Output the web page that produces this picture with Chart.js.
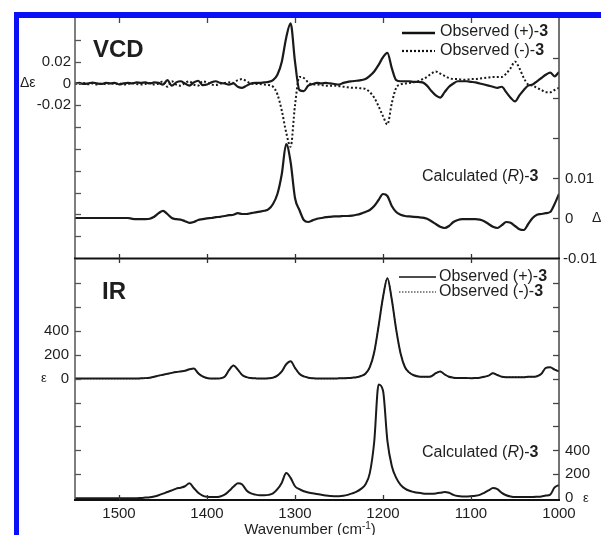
<!DOCTYPE html>
<html><head><meta charset="utf-8">
<script src="https://cdn.jsdelivr.net/npm/chart.js@4.4.1/dist/chart.umd.min.js"></script>
<style>
html,body{margin:0;padding:0;background:#fff;}
#wrap{position:relative;width:601px;height:535px;overflow:hidden;background:#fff;}
canvas{position:absolute;left:0;top:0;}
.blue{position:absolute;background:#0a10f5;z-index:5;}
</style></head>
<body>
<div id="wrap">
<canvas id="cTop" width="601" height="535"></canvas>
<canvas id="cBot" width="601" height="535"></canvas>
<div class="blue" style="left:14px;top:12px;width:587px;height:6px"></div>
<div class="blue" style="left:14px;top:12px;width:5px;height:523px"></div>
</div>
<script>
// ---------- DATA ----------
const wavenumber = [
 1550,1545,1540,1535,1530,1525,1520,1515,1510,1505,
 1500,1495,1490,1485,1480,1475,1470,1465,1460,1455,
 1450,1445,1440,1435,1430,1425,1420,1415,1410,1405,
 1400,1395,1390,1385,1380,1375,1370,1365,1360,1355,
 1350,1345,1340,1335,1330,1325,1320,1315,1310,1305,
 1300,1295,1290,1285,1280,1275,1270,1265,1260,1255,
 1250,1245,1240,1235,1230,1225,1220,1215,1210,1205,
 1200,1195,1190,1185,1180,1175,1170,1165,1160,1155,
 1150,1145,1140,1135,1130,1125,1120,1115,1110,1105,
 1100,1095,1090,1085,1080,1075,1070,1065,1060,1055,
 1050,1045,1040,1035,1030,1025,1020,1015,1010,1005,
 1000];

// Observed VCD (+)-3, Δε (left axis)
const vcdObsPlus = [
 0,0.0005,-0.0005,0,0.0008,0,-0.0005,0.0005,0,0.0005,
 -0.0008,0,0.0005,0,0.001,0.0005,0.001,0,0.001,0.0005,
 -0.001,0.003,-0.002,0.001,0.002,0,-0.002,0.001,0.0025,-0.0015,
 -0.001,0.001,0.002,0.0005,0,-0.001,0,-0.003,-0.004,-0.002,
 0,0.0005,0.0005,0.001,0.0015,0.003,0.008,0.02,0.042,0.055,
 0.02,-0.006,-0.007,-0.002,-0.0005,0.0005,0,0.0005,0,-0.0005,
 -0.001,0.0005,0.0015,0.002,0.0025,0.003,0.004,0.007,0.011,0.017,
 0.024,0.028,0.014,0.003,0.002,0.002,0.002,0.0015,0.0015,0.001,
 -0.002,-0.007,-0.011,-0.013,-0.008,-0.003,0,0.002,0.002,0.002,
 0.0015,0.001,0,-0.001,-0.002,-0.003,-0.004,-0.003,-0.008,-0.013,
 -0.0165,-0.011,-0.006,-0.002,-0.001,0.002,0.005,0.008,0.01,0.0065,
 0.0105];

// Observed VCD (-)-3, Δε (left axis)
const vcdObsMinus = [
 0,-0.0005,0.0005,-0.0008,0,-0.001,0,-0.0008,0.0005,-0.0005,
 0,-0.001,-0.0005,0.0005,-0.0005,-0.001,-0.0005,0.0005,-0.001,0,
 0.002,-0.003,0.002,-0.001,-0.002,0.0005,0.002,-0.001,-0.002,0.002,
 0.001,-0.001,-0.0015,0,0.0005,0.001,0.0005,0.003,0.004,0.002,
 0,-0.0005,-0.0005,-0.001,-0.0015,-0.003,-0.01,-0.025,-0.045,-0.058,
 -0.02,0.006,0.005,0.001,-0.001,-0.001,-0.0015,-0.002,-0.002,-0.002,
 -0.0025,-0.003,-0.0035,-0.004,-0.004,-0.0045,-0.005,-0.008,-0.013,-0.021,
 -0.03,-0.0375,-0.018,-0.004,-0.001,0,0.0005,0.001,0.002,0.004,
 0.006,0.009,0.011,0.009,0.007,0.005,0.004,0.004,0.0035,0.0035,
 0.004,0.004,0.0045,0.005,0.0055,0.006,0.006,0.006,0.009,0.014,
 0.02,0.014,0.005,-0.001,-0.002,-0.004,-0.006,-0.008,-0.008,-0.006,
 -0.004];

// Calculated VCD (R)-3, Δε (right axis)
const vcdCalc = [
 0,0,0,0,0,0,0,0,0,0,
 0,0,0,-0.0002,-0.0003,-0.0003,-0.0003,-0.0002,0.0003,0.0012,
 0.0018,0.001,0,-0.0003,-0.0004,-0.0008,-0.0012,-0.001,-0.0005,-0.0003,
 -0.0001,0,0.0002,0.0003,0.0005,0.0007,0.0008,0.0012,0.001,0.001,
 0.0012,0.0014,0.0016,0.0018,0.0022,0.0035,0.006,0.011,0.0185,0.014,
 0.005,0.002,-0.0005,-0.001,-0.0006,-0.0002,0,0.0002,0.0003,0.0004,
 0.0004,0.0005,0.0005,0.0006,0.0008,0.0011,0.0015,0.002,0.003,0.0045,
 0.006,0.0055,0.003,0.0015,0.0008,0.0005,0.0004,0.0003,0.0002,0.0001,
 -0.0002,-0.0008,-0.0015,-0.0022,-0.0025,-0.002,-0.001,-0.0005,-0.0003,-0.0003,
 -0.0003,-0.0003,-0.0004,-0.0008,-0.0015,-0.0022,-0.0025,-0.0018,-0.001,-0.0012,
 -0.002,-0.0028,-0.003,-0.0015,0,0.0008,0.001,0.0012,0.0015,0.0035,
 0.006];

// Observed IR (+)-3, ε (left axis)
const irObsPlus = [
 0,0,0,0,0,0,0,0,0,0,
 0,0,0,0,0,2,4,8,15,25,
 32,40,48,55,60,65,78,85,45,18,
 5,0,0,2,15,70,110,75,30,12,
 5,2,0,0,2,8,25,60,120,145,
 90,40,18,8,3,0,0,0,0,0,
 2,3,5,8,12,22,40,95,220,440,
 680,840,660,410,210,95,50,28,18,15,
 15,20,45,60,35,15,8,5,5,5,
 3,5,8,15,25,45,30,15,12,12,
 12,12,12,15,15,20,40,90,95,75,
 60];

// Observed IR (-)-3, ε (left axis) - coincides with (+)-3 in the figure
const irObsMinus = [
 0,0,0,0,0,0,0,0,0,0,
 0,0,0,0,0,2,4,8,15,25,
 32,40,48,55,60,65,78,85,45,18,
 5,0,0,2,15,70,110,75,30,12,
 5,2,0,0,2,8,25,60,120,145,
 90,40,18,8,3,0,0,0,0,0,
 2,3,5,8,12,22,40,95,220,440,
 680,840,660,410,210,95,50,28,18,15,
 15,20,45,60,35,15,8,5,5,5,
 3,5,8,15,25,45,30,15,12,12,
 12,12,12,15,15,20,40,90,95,75,
 60];

// Calculated IR (R)-3, ε (right axis)
const irCalc = [
 0,0,0,0,0,0,0,0,0,0,
 0,0,0,0,0,2,5,8,15,25,
 38,52,65,80,88,100,125,85,45,22,
 12,10,10,15,30,60,95,125,115,65,
 40,30,25,25,28,40,75,130,210,170,
 100,75,58,48,42,35,28,22,18,17,
 17,20,28,40,55,78,115,210,470,950,
 900,480,270,170,112,80,62,52,45,40,
 38,38,40,45,52,45,28,18,15,15,
 17,20,28,45,65,85,75,45,25,15,
 10,10,10,10,10,12,15,22,30,90,
 110];

const xTickValues = [1500,1400,1300,1200,1100,1000];
const vcdLeftLabels = [0.02, 0, -0.02];
const vcdRightLabels = [0.01, 0, -0.01];
const irLeftLabels = [400, 200, 0];
const irRightLabels = [400, 200, 0];

// ---------- helpers ----------
const FF = "'Liberation Sans', Arial, Helvetica, sans-serif";
const INK = '#1e1e1e';
function pts(arr){ return wavenumber.map((w,i)=>({x:w,y:arr[i]})); }
function fmt(v){ if (Math.abs(v)<1e-12) return '0'; return String(+v.toFixed(4)); }
function runs(ctx,x,y,parts,align){
  let w=0; parts.forEach(p=>{ctx.font=p.f; w+=ctx.measureText(p.t).width;});
  let cx = align==='right'? x-w : (align==='center'? x-w/2 : x);
  ctx.textAlign='left';
  parts.forEach(p=>{ctx.font=p.f; ctx.fillText(p.t,cx,y); cx+=ctx.measureText(p.t).width;});
}
function line(ctx,x1,y1,x2,y2,w,c,dash){
  ctx.save(); ctx.beginPath(); ctx.strokeStyle=c; ctx.lineWidth=w; ctx.setLineDash(dash||[]);
  ctx.moveTo(x1,y1); ctx.lineTo(x2,y2); ctx.stroke(); ctx.restore();
}
const fReg = '16px '+FF, fBold='bold 16px '+FF, fIt='italic 16px '+FF, fTick='15px '+FF;

function baseOptions(pad, yL, yR){
  return {
    responsive:false, animation:false, devicePixelRatio:1,
    layout:{padding:pad},
    plugins:{legend:{display:false}, tooltip:{enabled:false}, title:{display:false}},
    elements:{point:{radius:0}, line:{cubicInterpolationMode:'monotone'}},
    scales:{
      x:{type:'linear', min:1000, max:1550, reverse:true, display:false},
      yL:{type:'linear', position:'left', min:yL[0], max:yL[1], display:false},
      yR:{type:'linear', position:'right', min:yR[0], max:yR[1], display:false}
    }
  };
}

// ---------- TOP: VCD ----------
const decoTop = { id:'decoTop', afterDraw(chart){
  const ctx=chart.ctx, a=chart.chartArea, sx=chart.scales.x, yL=chart.scales.yL, yR=chart.scales.yR;
  ctx.save();
  line(ctx,a.left,a.top,a.left,a.bottom,1.5,'#555');
  line(ctx,a.right,a.top,a.right,a.bottom,1.5,'#444');
  line(ctx,a.left-1,a.bottom+0.5,a.right+1,a.bottom+0.5,2,'#111');
  xTickValues.forEach(v=>{ if(v===1000) return; const px=Math.round(sx.getPixelForValue(v))+0.5;
    line(ctx,px,a.top,px,a.top+5,1.3,'#444'); line(ctx,px,a.bottom-4,px,a.bottom+5,1.3,'#333'); });
  for(let k=-7;k<=2;k++){ const py=Math.round(yL.getPixelForValue(k*0.02))+0.5; line(ctx,a.left,py,a.left+6,py,1.3,'#555'); }
  for(let k=0;k<=4;k++){ const py=Math.round(yR.getPixelForValue(k*0.01))+0.5; line(ctx,a.right-6,py,a.right,py,1.3,'#444'); }
  ctx.fillStyle=INK; ctx.textBaseline='middle';
  ctx.font=fTick; ctx.textAlign='right';
  vcdLeftLabels.forEach(v=>ctx.fillText(fmt(v), a.left-4, yL.getPixelForValue(v)));
  ctx.textAlign='left';
  vcdRightLabels.forEach(v=>ctx.fillText(fmt(v), a.right+(v<0?4:6), yR.getPixelForValue(v)+1));
  ctx.font='14px '+FF; ctx.fillText('\u0394\u03b5', 20, yL.getPixelForValue(0));
  ctx.fillText('\u0394', 592, yR.getPixelForValue(0));
  ctx.font='bold 24px '+FF; ctx.textBaseline='alphabetic'; ctx.fillText('VCD', 93, 57);
  ctx.textBaseline='middle';
  line(ctx,402,33,435,33,2.5,'#111');
  line(ctx,402,51,435,51,2.2,'#111',[2,2]);
  ctx.fillStyle=INK;
  runs(ctx,440,32,[{t:'Observed (+)-',f:fReg},{t:'3',f:fBold}]);
  runs(ctx,440,51,[{t:'Observed (-)-',f:fReg},{t:'3',f:fBold}]);
  runs(ctx,422,177,[{t:'Calculated (',f:fReg},{t:'R',f:fIt},{t:')-',f:fReg},{t:'3',f:fBold}]);
  ctx.restore();
}};

new Chart(document.getElementById('cTop'), {
  type:'line',
  data:{datasets:[
    {label:'Observed (+)-3', data:pts(vcdObsPlus), yAxisID:'yL', borderColor:'#1a1a1a', borderWidth:2.2, fill:false},
    {label:'Observed (-)-3', data:pts(vcdObsMinus), yAxisID:'yL', borderColor:'#1a1a1a', borderWidth:2, borderDash:[2,2.2], fill:false},
    {label:'Calculated (R)-3', data:pts(vcdCalc), yAxisID:'yR', borderColor:'#1a1a1a', borderWidth:2.2, fill:false}
  ]},
  options: baseOptions({left:75,right:42,top:18,bottom:277}, [-0.16,0.06], [-0.01,0.05]),
  plugins:[decoTop]
});

// ---------- BOTTOM: IR ----------
const decoBot = { id:'decoBot', afterDraw(chart){
  const ctx=chart.ctx, a=chart.chartArea, sx=chart.scales.x, yL=chart.scales.yL, yR=chart.scales.yR;
  ctx.save();
  line(ctx,a.left,a.top,a.left,a.bottom,1.5,'#555');
  line(ctx,a.right,a.top,a.right,a.bottom,1.5,'#444');
  line(ctx,a.left-1,a.bottom,a.right+1,a.bottom,2,'#111');
  xTickValues.forEach(v=>{ if(v===1000) return; const px=Math.round(sx.getPixelForValue(v))+0.5;
    line(ctx,px,a.bottom-5,px,a.bottom,1.3,'#333'); });
  for(let k=-4;k<=4;k++){ const py=Math.round(yL.getPixelForValue(k*200))+0.5; line(ctx,a.left,py,a.left+6,py,1.3,'#555'); }
  for(let k=1;k<=9;k++){ const py=Math.round(yR.getPixelForValue(k*200))+0.5; line(ctx,a.right-6,py,a.right,py,1.3,'#444'); }
  ctx.fillStyle=INK; ctx.textBaseline='middle'; ctx.font=fTick;
  ctx.textAlign='right';
  irLeftLabels.forEach(v=>ctx.fillText(String(v), a.left-6, yL.getPixelForValue(v)));
  ctx.textAlign='left';
  irRightLabels.forEach(v=>ctx.fillText(String(v), a.right+6, yR.getPixelForValue(v)));
  ctx.font='13px '+FF;
  ctx.fillText('\u03b5', 41, yL.getPixelForValue(0));
  ctx.fillText('\u03b5', 583, yR.getPixelForValue(0));
  ctx.font=fTick; ctx.textAlign='center';
  xTickValues.forEach(v=>ctx.fillText(String(v), sx.getPixelForValue(v), a.bottom+14));
  ctx.textAlign='left';
  const f1='15px '+FF, fs='10px '+FF;
  ctx.font=f1; const w1=ctx.measureText('Wavenumber (cm').width;
  ctx.font=fs; const w2=ctx.measureText('-1').width;
  ctx.font=f1; const w3=ctx.measureText(')').width;
  let cx=310-(w1+w2+w3)/2;
  ctx.font=f1; ctx.fillText('Wavenumber (cm',cx,530); cx+=w1;
  ctx.font=fs; ctx.fillText('-1',cx,526); cx+=w2;
  ctx.font=f1; ctx.fillText(')',cx,530);
  ctx.font='bold 24px '+FF; ctx.textBaseline='alphabetic'; ctx.fillText('IR', 102, 299);
  ctx.textBaseline='middle';
  line(ctx,399,277,436,277,1.4,'#111');
  line(ctx,399,292,436,292,1.2,'#111',[1.5,1.5]);
  ctx.fillStyle=INK;
  runs(ctx,439,277,[{t:'Observed (+)-',f:fReg},{t:'3',f:fBold}]);
  runs(ctx,439,292,[{t:'Observed (-)-',f:fReg},{t:'3',f:fBold}]);
  runs(ctx,422,453,[{t:'Calculated (',f:fReg},{t:'R',f:fIt},{t:')-',f:fReg},{t:'3',f:fBold}]);
  ctx.restore();
}};

new Chart(document.getElementById('cBot'), {
  type:'line',
  data:{datasets:[
    {label:'Observed (+)-3', data:pts(irObsPlus), yAxisID:'yL', borderColor:'#1a1a1a', borderWidth:2, fill:false},
    {label:'Observed (-)-3', data:pts(irObsMinus), yAxisID:'yL', borderColor:'#1a1a1a', borderWidth:1.2, borderDash:[1.5,1.5], fill:false},
    {label:'Calculated (R)-3', data:pts(irCalc), yAxisID:'yR', borderColor:'#1a1a1a', borderWidth:2, fill:false}
  ]},
  options: baseOptions({left:75,right:42,top:259,bottom:35}, [-1015,1000], [-15,2000]),
  plugins:[decoBot]
});
</script>
</body></html>
